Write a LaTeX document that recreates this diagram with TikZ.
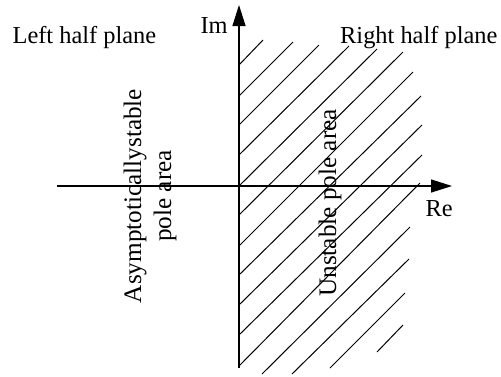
\documentclass[tikz,border=0pt]{standalone}
\usepackage{fontspec}
\setmainfont{Liberation Serif}
\usetikzlibrary{arrows.meta}
\begin{document}
\begin{tikzpicture}[x=1pt,y=-1pt, line width=1.2pt,
  axis/.style={-{Triangle[length=21pt,width=13pt]}},
  hatch/.style={line width=1pt},
  lbl/.style={font=\fontsize{24.4}{30}\selectfont, inner sep=0pt},
  vlbl/.style={font=\fontsize{25.2}{30}\selectfont, inner sep=0pt, rotate=90}]
\useasboundingbox (0,0) rectangle (501,376);
\coordinate (imlow) at (239,368);
\coordinate (imtop) at (239,5);
\coordinate (releft) at (57,186);
\coordinate (reright) at (452,186);
\foreach \xa/\ya/\xb/\yb in {239/65/263/40, 239/96/293/42, 239/125/319/45,
  239/155/349/46, 239/186/377/49, 239/215/403/52, 239/246/413/72,
  239/275/421/96, 239/305/422/125, 239/335/422/155, 239/366/420/183,
  262/374/410/227, 292/374/409/259, 330/368/405/293, 377/352/403/325}
  \draw[hatch] (\xa,\ya) -- (\xb,\yb);
\draw[axis] (imlow) -- (imtop);
\draw[axis] (releft) -- (reright);
\node[lbl, anchor=base west] (im) at (200,33) {Im};
\node[lbl, anchor=base west] (re) at (425,216) {Re};
\node[lbl, anchor=base west] (lhp) at (12,43) {Left half plane};
\node[lbl, anchor=base east] (rhp) at (498,43) {Right half plane};
\node[vlbl, align=center] (stable) at (150,196) {Asymptoticallystable\\pole area};
\node[vlbl] (unstable) at (330,203) {Unstable pole area};
\end{tikzpicture}
\end{document}
